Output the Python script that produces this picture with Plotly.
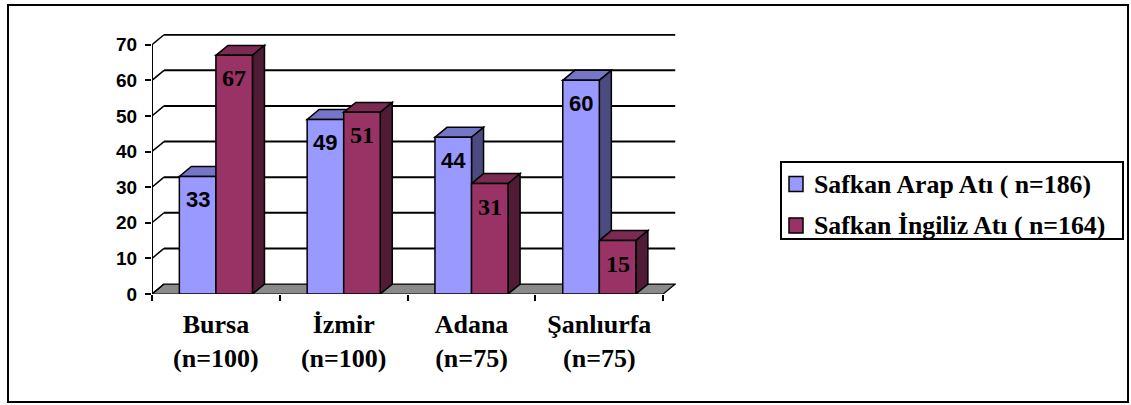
import plotly.graph_objects as go

# ---- data ----
categories = ["Bursa<br>(n=100)", "İzmir<br>(n=100)", "Adana<br>(n=75)", "Şanlıurfa<br>(n=75)"]
series_names = ["Safkan Arap Atı ( n=186)", "Safkan İngiliz Atı ( n=164)"]
arap_values = [33, 49, 44, 60]
ingiliz_values = [67, 51, 31, 15]
y_ticks = [0, 10, 20, 30, 40, 50, 60, 70]

# ---- styling / geometry ----
FIG_W, FIG_H = 1131, 405
M_L, M_R, M_T, M_B = 152, 455, 34, 111
PLOT_W = FIG_W - M_L - M_R
PLOT_H = FIG_H - M_T - M_B
X_RANGE = [-0.5, 3.6]
Y_RANGE = [0, 73]
BAR_W = 0.286
OFFSETS = [-BAR_W / 2, BAR_W / 2]
DX, DY = 0.094, 2.8          # depth of the pseudo-3D box in data units

colors = {
    "front": ["#9999FF", "#993366"],
    "top": ["#7676C8", "#7B2A52"],
    "side": ["#4B4B80", "#4F1B35"],
}
SERIF = "Liberation Serif, Times New Roman, serif"
SANS = "Liberation Sans, Arial, sans-serif"
label_fonts = [SANS, SERIF]


def px(xp):
    return (xp - M_L) / PLOT_W


def py(yp):
    return (FIG_H - M_B - yp) / PLOT_H


def poly(points):
    return "M " + " L ".join(f"{x},{y}" for x, y in points) + " Z"


shapes = []
n_cat = len(categories)
x_lo, x_hi = -0.5, n_cat - 0.5

# floor
shapes.append(dict(type="path", xref="x", yref="y", layer="below",
                   path=poly([(x_lo, 0), (x_hi, 0), (x_hi + DX, DY), (x_lo + DX, DY)]),
                   fillcolor="#8A8A8A", line=dict(color="black", width=1.2)))

# back-wall gridlines and side-wall diagonals
for v in y_ticks[1:]:
    shapes.append(dict(type="line", xref="x", yref="y", layer="below",
                       x0=x_lo + DX, x1=x_hi + DX, y0=v + DY, y1=v + DY,
                       line=dict(color="black", width=2)))
for v in y_ticks:
    shapes.append(dict(type="line", xref="x", yref="y", layer="below",
                       x0=x_lo, x1=x_lo + DX, y0=v, y1=v + DY,
                       line=dict(color="black", width=1.5)))

# top and side faces of each bar (front faces are the bar traces)
series_values = [arap_values, ingiliz_values]
for i in range(n_cat):
    for s, vals in enumerate(series_values):
        v = vals[i]
        x0 = i + OFFSETS[s] - BAR_W / 2
        x1 = i + OFFSETS[s] + BAR_W / 2
        shapes.append(dict(type="path", xref="x", yref="y", layer="below",
                           path=poly([(x0, v), (x1, v), (x1 + DX, v + DY), (x0 + DX, v + DY)]),
                           fillcolor=colors["top"][s], line=dict(color="black", width=1.5)))
        shapes.append(dict(type="path", xref="x", yref="y", layer="below",
                           path=poly([(x1, 0), (x1, v), (x1 + DX, v + DY), (x1 + DX, DY)]),
                           fillcolor=colors["side"][s], line=dict(color="black", width=1.5)))

# front value axis line
shapes.append(dict(type="line", xref="x", yref="y", layer="above",
                   x0=x_lo, x1=x_lo, y0=0, y1=y_ticks[-1],
                   line=dict(color="black", width=2)))

# legend box with swatches
shapes.append(dict(type="rect", xref="paper", yref="paper", layer="above",
                   x0=px(781), x1=px(1123), y0=py(162), y1=py(239),
                   fillcolor="white", line=dict(color="black", width=2)))
legend_rows = [184, 225.5]
for s, yc in enumerate(legend_rows):
    shapes.append(dict(type="rect", xref="paper", yref="paper", layer="above",
                       x0=px(789), x1=px(803), y0=py(yc - 7.5), y1=py(yc + 7.5),
                       fillcolor=colors["front"][s], line=dict(color="black", width=1.5)))

# outer frame
shapes.append(dict(type="rect", xref="paper", yref="paper", layer="above",
                   x0=px(8), x1=px(1128), y0=py(5), y1=py(402),
                   line=dict(color="black", width=2)))

fig = go.Figure()
for s, vals in enumerate(series_values):
    fig.add_trace(go.Bar(
        x=[i + OFFSETS[s] for i in range(n_cat)],
        y=vals,
        width=BAR_W,
        name=series_names[s],
        marker=dict(color=colors["front"][s], line=dict(color="black", width=1.5)),
        showlegend=False,
    ))

annotations = []
for s, vals in enumerate(series_values):
    for i, v in enumerate(vals):
        annotations.append(dict(
            x=i + OFFSETS[s], y=v, xref="x", yref="y", text=str(v),
            showarrow=False, yanchor="middle", yshift=-23,
            font=dict(family=label_fonts[s], size=22 if s == 0 else 24,
                      color="black", weight="bold"),
        ))
for s, yc in enumerate(legend_rows):
    annotations.append(dict(
        x=px(812), y=py(yc), xref="paper", yref="paper", text=series_names[s],
        showarrow=False, xanchor="left", yanchor="middle",
        font=dict(family=SERIF, size=25.8, color="black", weight="bold"),
    ))

fig.update_layout(
    width=FIG_W, height=FIG_H,
    margin=dict(l=M_L, r=M_R, t=M_T, b=M_B, pad=0),
    paper_bgcolor="white", plot_bgcolor="rgba(0,0,0,0)",
    barmode="overlay",
    showlegend=False,
    shapes=shapes,
    annotations=annotations,
    xaxis=dict(
        range=X_RANGE, showgrid=False, zeroline=False, showline=False,
        tickmode="array", tickvals=list(range(n_cat)), ticktext=categories,
        ticks="", ticklabelstandoff=12,
        tickfont=dict(family=SERIF, size=26, color="black", weight="bold"),
        minor=dict(tickmode="linear", tick0=-0.5, dtick=1, ticks="outside",
                   ticklen=6, tickwidth=1.5, tickcolor="black", showgrid=False),
    ),
    yaxis=dict(
        range=Y_RANGE, showgrid=False, zeroline=False, showline=False,
        tickmode="array", tickvals=y_ticks,
        ticks="outside", ticklen=6, tickwidth=1.5, tickcolor="black",
        ticklabelstandoff=4,
        tickfont=dict(family=SANS, size=19, color="black", weight="bold"),
    ),
)

fig.write_html("out.html")
